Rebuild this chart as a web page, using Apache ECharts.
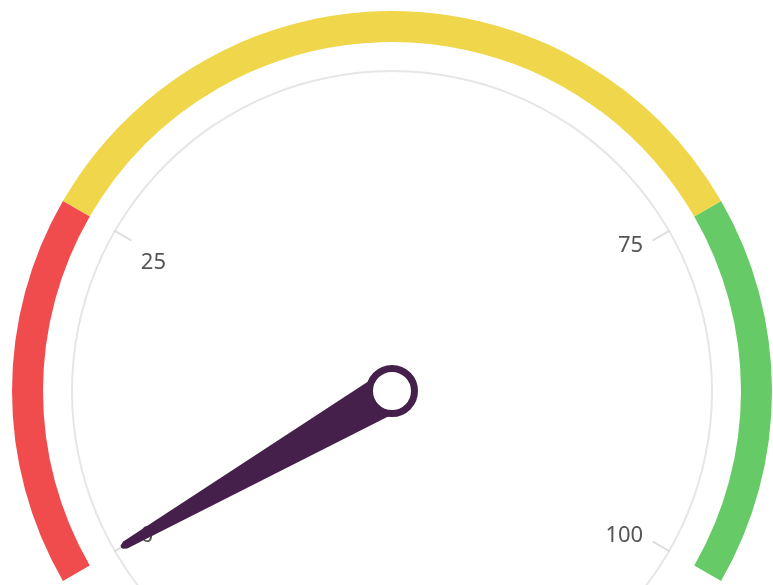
<!DOCTYPE html>
<html>
<head>
<meta charset="utf-8">
<script src="https://cdn.jsdelivr.net/npm/echarts@6/dist/echarts.min.js"></script>
<style>
  html, body { margin: 0; padding: 0; background: #fff; }
  #chart { width: 773px; height: 585px; }
</style>
</head>
<body>
<div id="chart"></div>
<script>
// 数据
var needleValue = [0];
var bandStops = [0.25, 0.75, 1];
var bandColors = ['#f04c4d', '#efd64a', '#66cb66'];
var leftTicks = [0, 25];
var rightTicks = [75, 100];

(function () {
  var myChart = echarts.init(document.getElementById('chart'));
  var center = [392, 391];
  var font = "'Noto Sans', 'Open Sans', sans-serif";

  // 隐藏的公共部分
  var hidden = {
    pointer: { show: false },
    anchor: { show: false },
    title: { show: false },
    detail: { show: false },
    axisTick: { show: false }
  };

  // 刻度小段（只有 0/25 和 75/100）
  function tickGauge(start, end, ticks) {
    return Object.assign({
      type: 'gauge',
      center: center,
      radius: 321,
      startAngle: start,
      endAngle: end,
      min: ticks[0],
      max: ticks[1],
      splitNumber: 1,
      axisLine: { show: false, lineStyle: { width: 0 } },
      splitLine: {
        show: true,
        length: 20,
        distance: 0,
        lineStyle: { color: '#dcdcdc', width: 2 }
      },
      axisLabel: {
        show: true,
        distance: 11,
        color: '#555',
        fontSize: 22,
        fontFamily: font,
        // 25 的标签稍微往下
        formatter: function (v) {
          return v === 25 ? '{low|' + v + '}' : String(v);
        },
        rich: {
          low: { padding: [34, 0, 0, 0], color: '#555', fontSize: 22, fontFamily: font }
        }
      },
      data: []
    }, hidden);
  }

  var option = {
    animation: false,
    series: [
      // 彩色外圈
      Object.assign({
        type: 'gauge',
        center: center,
        radius: 380,
        startAngle: 210,
        endAngle: -30,
        min: 0,
        max: 100,
        axisLine: {
          lineStyle: {
            width: 31,
            color: bandStops.map(function (s, i) { return [s, bandColors[i]]; })
          }
        },
        splitLine: { show: false },
        axisLabel: { show: false },
        data: []
      }, hidden),
      // 灰色细圆
      Object.assign({
        type: 'gauge',
        center: center,
        radius: 321,
        startAngle: 90,
        endAngle: -270,
        axisLine: { lineStyle: { width: 2, color: [[1, '#e6e6e6']] } },
        splitLine: { show: false },
        axisLabel: { show: false },
        data: []
      }, hidden),
      tickGauge(210, 150, leftTicks),
      tickGauge(30, -30, rightTicks),
      // 指针
      {
        type: 'gauge',
        center: center,
        radius: 321,
        startAngle: 210,
        endAngle: -30,
        min: 0,
        max: 100,
        axisLine: { show: false },
        axisTick: { show: false },
        splitLine: { show: false },
        axisLabel: { show: false },
        pointer: {
          show: true,
          icon: 'path://M0,313 L17,5 L19,1 L21,0 L23,1 L25,5 L42,313 Z',
          length: 313,
          width: 42,
          keepAspect: false,
          itemStyle: { color: '#44204a' }
        },
        anchor: {
          show: true,
          showAbove: true,
          size: 45,
          itemStyle: { color: '#fff', borderColor: '#44204a', borderWidth: 7 }
        },
        title: { show: false },
        detail: { show: false },
        data: needleValue.map(function (v) { return { value: v }; })
      }
    ]
  };

  myChart.setOption(option);
  window.addEventListener('resize', () => myChart.resize());
})();
</script>
</body>
</html>
